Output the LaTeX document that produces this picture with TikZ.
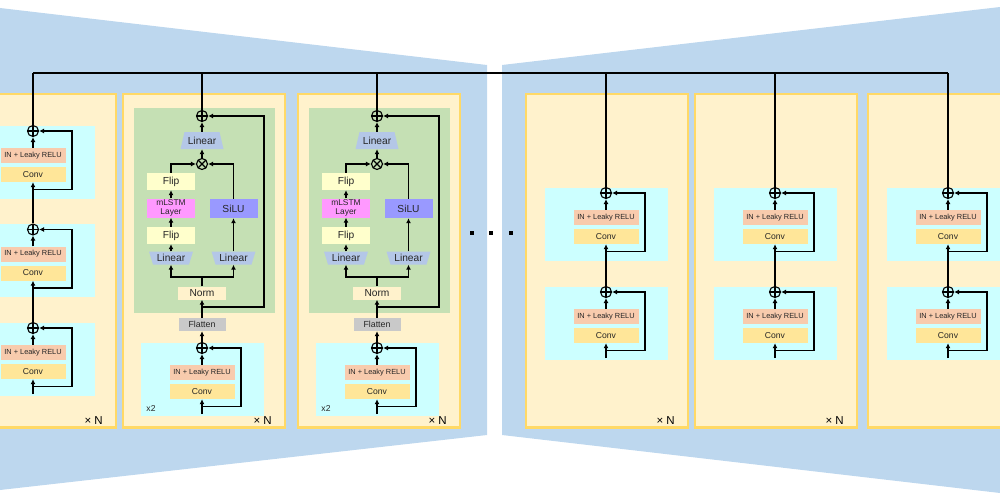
\documentclass[tikz,border=0pt]{standalone}
\usepackage{fontspec}
\setmainfont{Liberation Sans}
\usetikzlibrary{arrows.meta,shapes.geometric}
\definecolor{bluebg}{HTML}{BDD7EE}
\definecolor{yelfill}{HTML}{FFF2CC}
\definecolor{yeldraw}{HTML}{FFD966}
\definecolor{grnfill}{HTML}{C5E0B4}
\definecolor{cyanfill}{HTML}{CCFFFF}
\definecolor{infill}{HTML}{F8CBAD}
\definecolor{convfill}{HTML}{FFE699}
\definecolor{linfill}{HTML}{B4C7E7}
\definecolor{flipfill}{HTML}{FFFFCC}
\definecolor{lstmfill}{HTML}{FF99FF}
\definecolor{silufill}{HTML}{9999FF}
\definecolor{flatfill}{HTML}{C9C9C9}
\definecolor{txt}{HTML}{262626}
\tikzset{
 box/.style={rectangle, inner sep=0pt, text=txt},
 inbox/.style={box, fill=infill, minimum width=65pt, minimum height=15pt, font=\fontsize{7.4}{8}\selectfont},
 convbox/.style={box, fill=convfill, minimum width=65pt, minimum height=15pt, font=\fontsize{8.6}{10}\selectfont},
 flipbox/.style={box, fill=flipfill, minimum width=48pt, minimum height=17pt, font=\fontsize{10.2}{12}\selectfont},
 lstmbox/.style={box, fill=lstmfill, minimum width=48pt, minimum height=19pt, align=center, font=\fontsize{8.4}{8.8}\selectfont},
 silubox/.style={box, fill=silufill, minimum width=48pt, minimum height=19pt, font=\fontsize{10.2}{12}\selectfont},
 normbox/.style={box, fill=yelfill, minimum width=48pt, minimum height=13pt, font=\fontsize{10.2}{12}\selectfont},
 flatbox/.style={box, fill=flatfill, minimum width=47pt, minimum height=13pt, font=\fontsize{8.8}{10}\selectfont},
 lintop/.style={box, minimum width=43pt, minimum height=17pt, font=\fontsize{10.2}{12}\selectfont},
 linbot/.style={box, minimum width=44pt, minimum height=13pt, font=\fontsize{10.2}{12}\selectfont},
 oplusnode/.style={circle, draw, line width=1.1pt, minimum size=11pt, inner sep=0pt, path picture={\draw[line width=1.1pt] (path picture bounding box.north)--(path picture bounding box.south) (path picture bounding box.west)--(path picture bounding box.east);}},
 otimesnode/.style={circle, draw, line width=1.1pt, minimum size=11pt, inner sep=0pt, path picture={\draw[line width=1.1pt] (path picture bounding box.north west)--(path picture bounding box.south east) (path picture bounding box.north east)--(path picture bounding box.south west);}},
 arr/.style={line width=1.8pt, -{Latex[length=5pt,width=5pt]}},
 conn/.style={line width=1.8pt},
 outerbox/.style={fill=yelfill, draw=yeldraw, line width=2.2pt},
 timesN/.style={anchor=east, font=\fontsize{11.5}{12}\selectfont, text=black, inner sep=0pt},
 smalltxt/.style={font=\fontsize{8.6}{10}\selectfont, text=txt, inner sep=0pt},
 dotnode/.style={rectangle, fill=black, minimum size=3.2pt, inner sep=0pt},
}
\newcommand\resblk[3]{%
 \fill[cyanfill] ({#2-61.5},{#3-5.5}) rectangle ({#2+61.5},{#3+67.5});
 \node[oplusnode] (#1p) at (#2,#3) {};
 \node[inbox] (#1in) at (#2,{#3+24.5}) {IN + Leaky RELU};
 \node[convbox] (#1cv) at (#2,{#3+43.5}) {Conv};
 \coordinate (#1b) at (#2,{#3+58.5});
 \coordinate (#1s) at (#2,{#3+66});
 \draw[arr] (#1in) -- (#1p);
 \draw[arr] (#1b) -- ++(39,0) |- (#1p.east);
}
\newcommand\xlstmblk[2]{%
 \fill[grnfill] ({#2-68},108) rectangle ({#2+73},313);
 \fill[linfill] ({#2-17.5},132) -- ({#2+17.5},132) -- ({#2+21.5},149) -- ({#2-21.5},149) -- cycle;
 \fill[linfill] ({#2-53},251.5) -- ({#2-9},251.5) -- ({#2-13},264.5) -- ({#2-49},264.5) -- cycle;
 \fill[linfill] ({#2+9.5},251.5) -- ({#2+53.5},251.5) -- ({#2+49.5},264.5) -- ({#2+13.5},264.5) -- cycle;
 \node[oplusnode] (#1top) at (#2,116) {};
 \node[lintop] (#1lt) at (#2,140.5) {Linear};
 \node[otimesnode] (#1x) at (#2,164) {};
 \node[flipbox] (#1fu) at ({#2-31},181.5) {Flip};
 \node[lstmbox] (#1ml) at ({#2-31},208) {mLSTM\\Layer};
 \node[flipbox] (#1fl) at ({#2-31},235.5) {Flip};
 \node[linbot] (#1ll) at ({#2-31},258) {Linear};
 \node[linbot] (#1lr) at ({#2+31.5},258) {Linear};
 \node[silubox] (#1si) at ({#2+31.5},208.5) {SiLU};
 \node[normbox] (#1nm) at (#2,293) {Norm};
 \node[flatbox] (#1fa) at (#2,324.5) {Flatten};
 \resblk{#1r}{#2}{348}
 \node[smalltxt] (#1xtwo) at ({#2-51},408) {x2};
 \coordinate (#1split) at (#2,277);
 \coordinate (#1res) at (#2,307);
 \draw[arr] (#1rs) -- (#1rcv);
 \draw[arr] (#1rp) -- (#1fa);
 \draw[arr] (#1fa) -- (#1nm);
 \draw[arr] (#1res) -- ++(62,0) |- (#1top.east);
 \draw[conn] (#1nm) -- (#1split);
 \draw[arr] (#1split) -| (#1ll.south);
 \draw[arr] (#1split) -| (#1lr.south);
 \draw[arr] (#1ll) -- (#1fl);
 \draw[arr] (#1fl) -- (#1ml);
 \draw[arr] (#1ml) -- (#1fu);
 \draw[arr] (#1fu.north) |- (#1x.west);
 \draw[arr] (#1lr) -- (#1si);
 \draw[arr] (#1si.north) |- (#1x.east);
 \draw[arr] (#1x) -- (#1lt);
 \draw[arr] (#1lt) -- (#1top);
}
\begin{document}
\begin{tikzpicture}[x=1pt,y=-1pt]
\useasboundingbox (0,0) rectangle (1000,500);
\clip (0,0) rectangle (1000,500);
% background panels
\fill[bluebg] (0,8) -- (487,65) -- (487,435) -- (0,490) -- cycle;
\fill[bluebg] (502,65) -- (1000,7) -- (1000,493) -- (502,435) -- cycle;
% outer boxes
\draw[outerbox] (-46,94) rectangle (116,427.5);
\draw[outerbox] (123,94) rectangle (285,427.5);
\draw[outerbox] (298,94) rectangle (460,427.5);
\draw[outerbox] (526,94) rectangle (688,427.5);
\draw[outerbox] (695,94) rectangle (857,427.5);
\draw[outerbox] (868,94) rectangle (1030,427.5);
\node[timesN] (n1) at (103,421) {× N};
\node[timesN] (n2) at (272,421) {× N};
\node[timesN] (n3) at (447,421) {× N};
\node[timesN] (n4) at (675,421) {× N};
\node[timesN] (n5) at (844,421) {× N};
% box 1
\resblk{a1}{33}{131}
\resblk{a2}{33}{229.5}
\resblk{a3}{33}{328}
\draw[arr] (a3s) -- (a3cv);
\draw[arr] (a3p) -- (a2cv);
\draw[arr] (a2p) -- (a1cv);
% boxes 2,3
\xlstmblk{b}{202}
\xlstmblk{c}{377}
% boxes 4-6
\resblk{d1}{606}{193}
\resblk{d2}{606}{292}
\draw[arr] (d2s) -- (d2cv);
\draw[arr] (d2p) -- (d1cv);
\resblk{e1}{775}{193}
\resblk{e2}{775}{292}
\draw[arr] (e2s) -- (e2cv);
\draw[arr] (e2p) -- (e1cv);
\resblk{f1}{948}{193}
\resblk{f2}{948}{292}
\draw[arr] (f2s) -- (f2cv);
\draw[arr] (f2p) -- (f1cv);
% dots
\node[dotnode] (dot1) at (472,233) {};
\node[dotnode] (dot2) at (491,233) {};
\node[dotnode] (dot3) at (511,233) {};
% top line
\coordinate (h1) at (33,73);
\coordinate (h2) at (202,73);
\coordinate (h3) at (377,73);
\coordinate (h4) at (606,73);
\coordinate (h5) at (775,73);
\coordinate (h6) at (948,73);
\draw[conn] (h1) -- (h6);
\draw[conn] (a1p.north) -- (h1);
\draw[conn] (btop.north) -- (h2);
\draw[conn] (ctop.north) -- (h3);
\draw[conn] (d1p.north) -- (h4);
\draw[conn] (e1p.north) -- (h5);
\draw[conn] (f1p.north) -- (h6);
\end{tikzpicture}
\end{document}
